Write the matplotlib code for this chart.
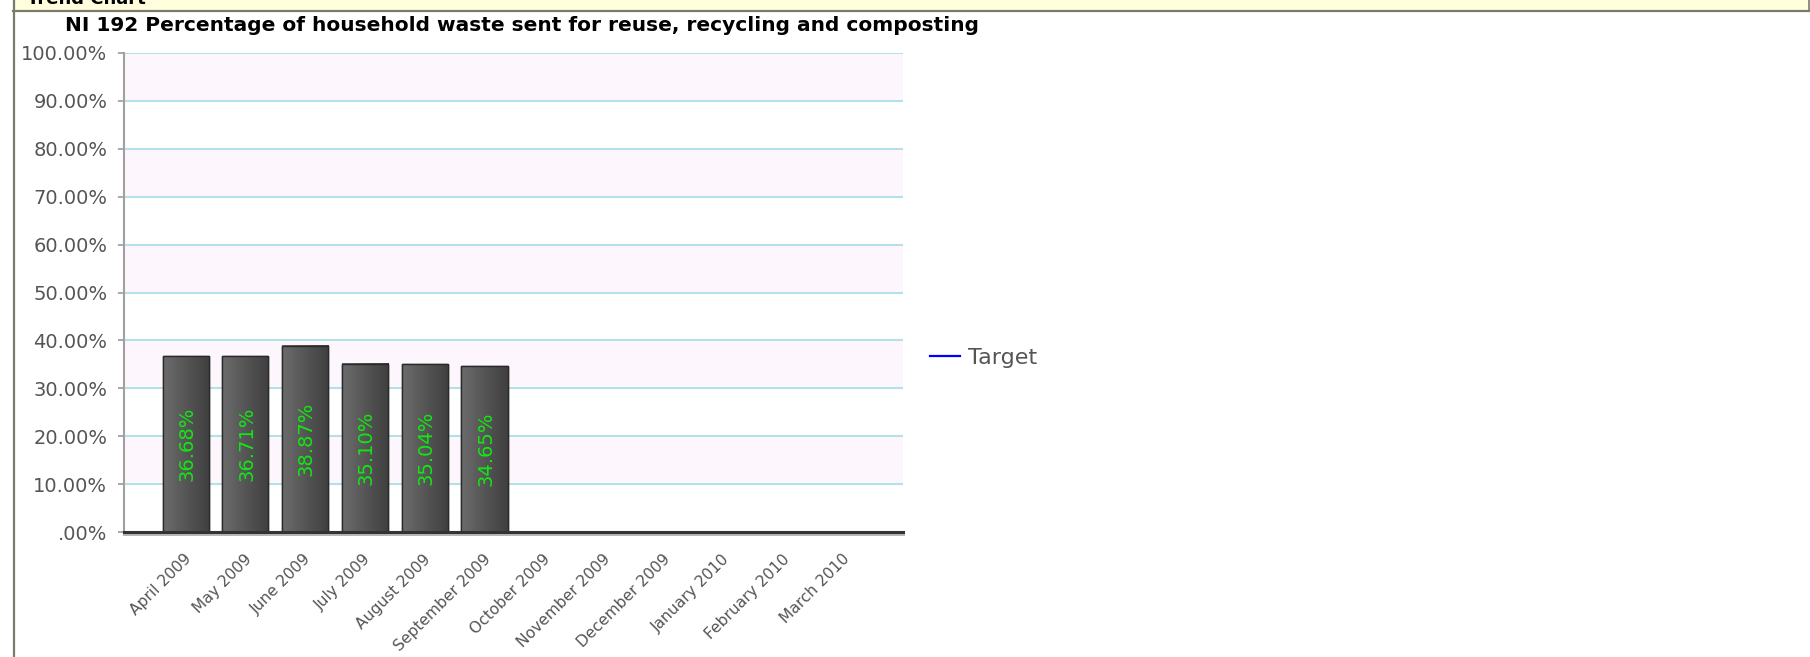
import numpy as np
import matplotlib
matplotlib.use("Agg")
import matplotlib.pyplot as plt
import matplotlib.patheffects as pe
from matplotlib.lines import Line2D
from matplotlib.patches import Rectangle
from matplotlib.transforms import ScaledTranslation

# Veri
months = ["April 2009", "May 2009", "June 2009", "July 2009", "August 2009",
          "September 2009", "October 2009", "November 2009", "December 2009",
          "January 2010", "February 2010", "March 2010"]
values = [36.68, 36.71, 38.87, 35.10, 35.04, 34.65,
          np.nan, np.nan, np.nan, np.nan, np.nan, np.nan]
yticks = [0, 10, 20, 30, 40, 50, 60, 70, 80, 90, 100]
ytick_labels = [".00%", "10.00%", "20.00%", "30.00%", "40.00%", "50.00%",
                "60.00%", "70.00%", "80.00%", "90.00%", "100.00%"]
title = "NI 192 Percentage of household waste sent for reuse, recycling and composting"

W, H = 1810, 657
fig = plt.figure(figsize=(W / 100, H / 100), dpi=100)
fig.patch.set_facecolor("white")

# Çerçeve / başlık bandı
border = "#7b7b6b"
fig.patches.append(Rectangle((14 / W, 1 - 10 / H), 1, 10 / H, transform=fig.transFigure,
                             facecolor="#ffffdd", edgecolor="none", zorder=0))
fig.add_artist(Line2D([13 / W, 1], [1 - 10.5 / H, 1 - 10.5 / H], color=border, lw=1.6))
fig.add_artist(Line2D([14 / W, 14 / W], [0, 1], color=border, lw=1.6))
fig.add_artist(Line2D([1809 / W, 1809 / W], [1 - 10 / H, 1], color=border, lw=1.2))
fig.text(27 / W, 1 - 4 / H, "Trend Chart", fontsize=13, weight="bold",
         color="black", va="baseline", ha="left")

ax = fig.add_axes([124 / W, 125 / H, (903 - 124) / W, (532 - 53) / H])
ax.set_facecolor("white")

# Arka plan bantları
for lo in range(10, 100, 20):
    ax.axhspan(lo, lo + 10, color="#fdf7fd", zorder=0, lw=0)
ax.set_yticks(yticks)
ax.set_yticklabels(ytick_labels)
ax.yaxis.grid(True, color="#b4e1e8", lw=1.5, zorder=0.5)
ax.set_axisbelow(True)

x = np.arange(len(months))
bars = ax.bar(x, values, width=0.77, color="#4d4d4d", edgecolor="#2a2a2a",
              lw=1.0, zorder=2)

# Çubuk gradyanı
cmap = matplotlib.colors.LinearSegmentedColormap.from_list(
    "g", ["#6c6c6c", "#555555", "#404040"])
grad = np.linspace(0, 1, 64).reshape(1, -1)
for b in bars:
    h = b.get_height()
    if np.isnan(h):
        continue
    ax.imshow(grad, cmap=cmap,
              extent=[b.get_x(), b.get_x() + b.get_width(), 0, h],
              aspect="auto", zorder=2.5, interpolation="bilinear")
    ax.add_patch(Rectangle((b.get_x(), 0), b.get_width(), h, facecolor="none",
                           edgecolor="#2a2a2a", lw=1.0, zorder=2.6))

for xi, v in zip(x, values):
    if np.isnan(v):
        continue
    ax.text(xi + 0.02, v / 2, f"{v:.2f}%", rotation=90, ha="center", va="center",
            color="#12e812", fontsize=14, zorder=3)

ax.set_xlim(-1.03, 12.0)
ax.set_ylim(0, 100)

ax.set_xticks(x)
ax.set_xticklabels(months, rotation=45, ha="right", fontsize=11.2, color="#555555")
ax.tick_params(axis="x", length=0, pad=14)
ax.tick_params(axis="y", length=4, width=1.2, color="#999999", pad=8,
               labelsize=14, labelcolor="#555555")
for lab in ax.get_xticklabels():
    lab.set_transform(lab.get_transform() + ScaledTranslation(9 / 100, 0, fig.dpi_scale_trans))

for s in ["top", "right"]:
    ax.spines[s].set_visible(False)
ax.spines["left"].set_color("#a0a0a0")
ax.spines["left"].set_linewidth(1.5)
ax.spines["bottom"].set_color("#333333")
ax.spines["bottom"].set_linewidth(2.2)
ax.spines["bottom"].set_path_effects([
    pe.SimpleLineShadow(offset=(0, -1.5), shadow_color="#888888", alpha=0.6),
    pe.Normal()])
ax.spines["bottom"].set_zorder(4)

# Legend
ax.plot([], [], color="#0000ff", lw=1.6, label="Target")
fig.legend(loc="center left", bbox_to_anchor=(930 / W, 1 - 358 / H), frameon=False,
           fontsize=16, handlelength=1.35, handletextpad=0.35, borderpad=0,
           borderaxespad=0, labelcolor="#555555")

fig.text(522 / W, 1 - 31 / H, title, ha="center", va="baseline",
         fontsize=14.5, weight="bold", color="black")

fig.savefig("out.png", dpi=100)
